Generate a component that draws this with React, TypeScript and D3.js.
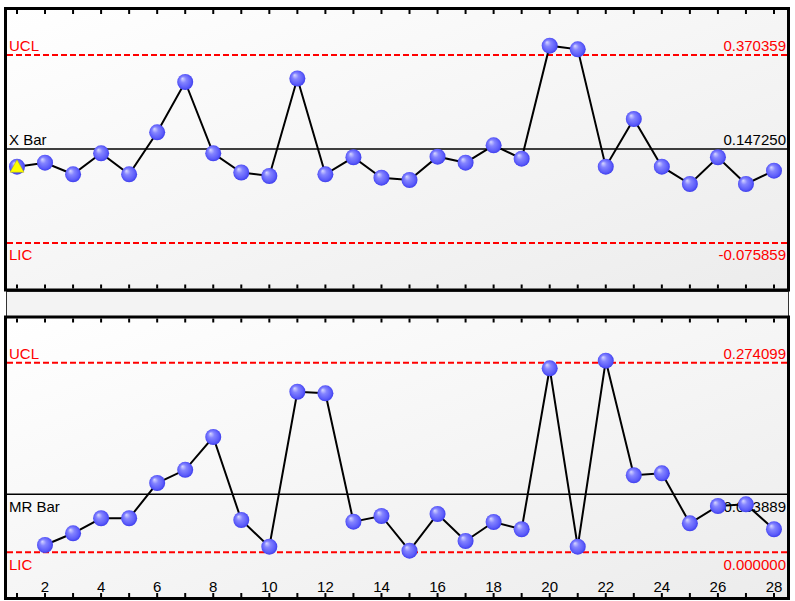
import React from "react";
import * as d3 from "d3";

// ---- data ----
const samples = d3.range(1, 29);
const xValues = [0.1052, 0.1147, 0.0872, 0.137, 0.0872, 0.1869, 0.3063, 0.137, 0.0915, 0.0832, 0.3146, 0.0872, 0.1276, 0.0791, 0.0737, 0.129, 0.1147, 0.156, 0.1242, 0.3924, 0.3839, 0.1052, 0.2185, 0.1052, 0.0642, 0.1276, 0.0642, 0.0957];
const mrSamples = d3.range(2, 29);
const mrValues = [0.0106, 0.0275, 0.0492, 0.0492, 0.1002, 0.1193, 0.1667, 0.0467, 0.0081, 0.2322, 0.2299, 0.0443, 0.0525, 0.0023, 0.0554, 0.0163, 0.0438, 0.0333, 0.2661, 0.0081, 0.2771, 0.1114, 0.1142, 0.0419, 0.067, 0.0694, 0.0333];
const tickLabels = [2, 4, 6, 8, 10, 12, 14, 16, 18, 20, 22, 24, 26, 28];
const xLimits = { ucl: 0.370359, cl: 0.14725, lcl: -0.075859 };
const mrLimits = { ucl: 0.274099, cl: 0.083889, lcl: 0 };
const xLabels = { ucl: "UCL", cl: "X Bar", lcl: "LIC" };
const mrLabels = { ucl: "UCL", cl: "MR Bar", lcl: "LIC" };
const alarmSamples = [1];

const W = 795;
const H = 601;
const FONT = "'Liberation Sans', Arial, sans-serif";

const xScale = d3.scaleLinear().domain([0.608, 28.464]).range([6, 787]);
const yTop = d3.scaleLinear().domain([-0.18743, 0.47718]).range([290, 10]);
const yBot = d3.scaleLinear().domain([-0.06609, 0.34028]).range([598, 317]);

function Panel({ y0, y1, yScale, xs, vs, limits, labels, clBelow, showTickLabels, alarms }: any) {
  const line = d3
    .line<number>()
    .x((_, i) => xScale(xs[i]))
    .y((d) => yScale(d));
  const left = 9;
  const right = 786;
  const fmt = (v: number) => v.toFixed(6);
  const lab = (key: string, below: boolean, color: string) => {
    const v = limits[key];
    const yy = below ? yScale(v) + 17.5 : yScale(v) - 4;
    return (
      <g key={key}>
        <text x={left} y={yy} fill={color} fontSize={15} fontFamily={FONT}>
          {labels[key]}
        </text>
        <text x={right} y={yy} fill={color} fontSize={15} fontFamily={FONT} textAnchor="end">
          {fmt(v)}
        </text>
      </g>
    );
  };
  return (
    <g>
      <rect x={5.5} y={y0} width={783} height={y1 - y0} fill="url(#bg)" stroke="#000" strokeWidth={3} />
      {samples.map((s) => (
        <g key={s}>
          <line x1={xScale(s)} x2={xScale(s)} y1={y0 + 1.5} y2={y0 + 5.5} stroke="#000" strokeWidth={2} />
          <line x1={xScale(s)} x2={xScale(s)} y1={y1 - 1.5} y2={y1 - 5.5} stroke="#000" strokeWidth={2} />
        </g>
      ))}
      {showTickLabels &&
        tickLabels.map((t) => (
          <text key={t} x={xScale(t)} y={y1 - 7} textAnchor="middle" fontSize={15} fontFamily={FONT} fill="#000">
            {t}
          </text>
        ))}
      <line x1={7} x2={787} y1={yScale(limits.ucl)} y2={yScale(limits.ucl)} stroke="#ff0000" strokeWidth={2} strokeDasharray="6,3" />
      <line x1={7} x2={787} y1={yScale(limits.lcl)} y2={yScale(limits.lcl)} stroke="#ff0000" strokeWidth={2} strokeDasharray="6,3" />
      <line x1={7} x2={787} y1={yScale(limits.cl)} y2={yScale(limits.cl)} stroke="#000" strokeWidth={1.6} />
      {lab("ucl", false, "#ff0000")}
      {lab("cl", clBelow, "#000")}
      {lab("lcl", true, "#ff0000")}
      <path d={line(vs) || ""} fill="none" stroke="#000" strokeWidth={2} />
      {vs.map((v: number, i: number) => (
        <circle key={i} cx={xScale(xs[i])} cy={yScale(v)} r={8} fill="url(#ball)" />
      ))}
      {alarms &&
        alarms.map((s: number) => {
          const i = xs.indexOf(s);
          const cx = xScale(s);
          const cy = yScale(vs[i]);
          return (
            <polygon
              key={"a" + s}
              points={`${cx},${cy - 7} ${cx - 7},${cy + 5.5} ${cx + 7},${cy + 5.5}`}
              fill="#ffff00"
              stroke="#b0b000"
              strokeWidth={0.5}
            />
          );
        })}
    </g>
  );
}

export default function App() {
  return (
    <svg width={W} height={H} style={{ position: "absolute", left: 0, top: 0, background: "#fff" }}>
      <defs>
        <linearGradient id="bg" x1="0" y1="0" x2="1" y2="1">
          <stop offset="0%" stopColor="#ffffff" />
          <stop offset="100%" stopColor="#ececec" />
        </linearGradient>
        <radialGradient id="ball" cx="50%" cy="50%" r="55%" fx="32%" fy="28%">
          <stop offset="0%" stopColor="#d8d8ff" />
          <stop offset="35%" stopColor="#8484ff" />
          <stop offset="75%" stopColor="#5c5cfa" />
          <stop offset="100%" stopColor="#3434e8" />
        </radialGradient>
      </defs>
      <rect x={6.5} y={291.5} width={782} height={25} fill="#f3f3f3" stroke="#333" strokeWidth={1} />
      <Panel
        y0={8.5}
        y1={290}
        yScale={yTop}
        xs={samples}
        vs={xValues}
        limits={xLimits}
        labels={xLabels}
        clBelow={false}
        showTickLabels={false}
        alarms={alarmSamples}
      />
      <Panel
        y0={317}
        y1={598.5}
        yScale={yBot}
        xs={mrSamples}
        vs={mrValues}
        limits={mrLimits}
        labels={mrLabels}
        clBelow={true}
        showTickLabels={true}
        alarms={null}
      />
    </svg>
  );
}
